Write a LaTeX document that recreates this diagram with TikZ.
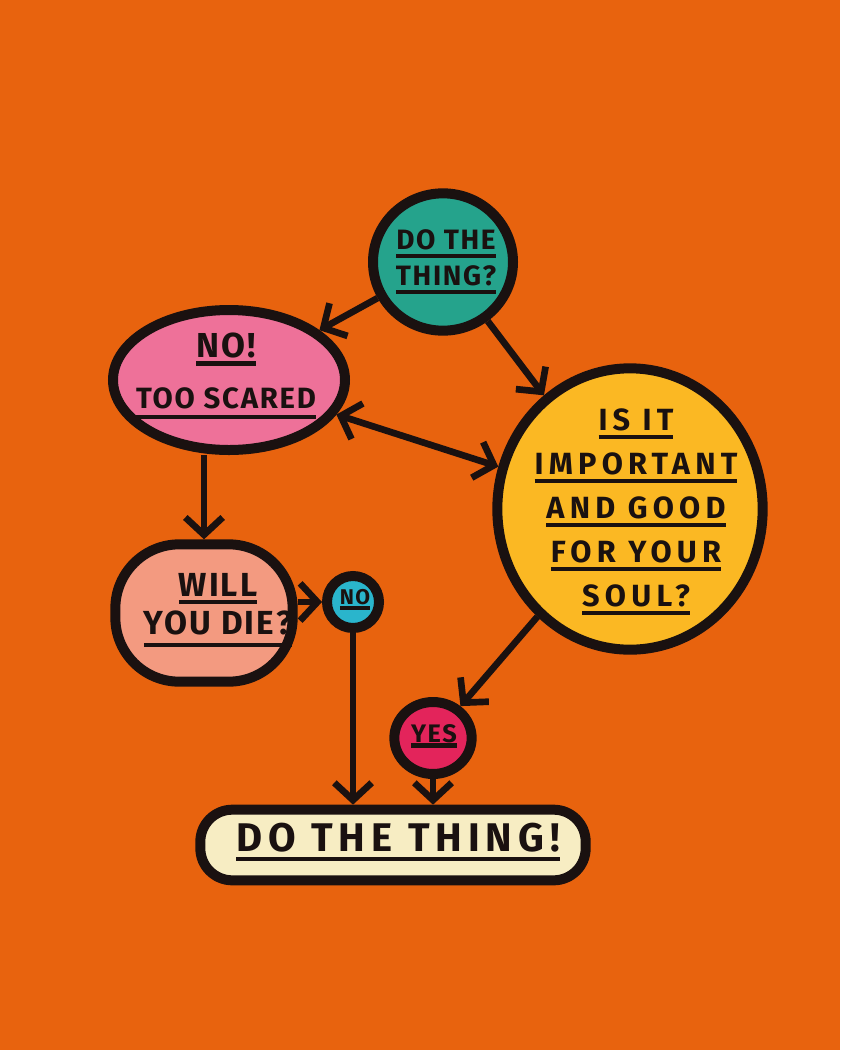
\documentclass[tikz,border=0pt]{standalone}
\usepackage{fontspec}
\newfontfamily\hand[LetterSpace=6]{Fira Sans}
\newfontfamily\handw[LetterSpace=17]{Fira Sans}
\newfontfamily\handf[LetterSpace=15]{Fira Sans}
\usetikzlibrary{shapes.geometric,arrows.meta}
\definecolor{bgor}{HTML}{E8630E}
\definecolor{ink}{HTML}{1A1110}
\definecolor{tealc}{HTML}{25A38C}
\definecolor{pinkc}{HTML}{EE7199}
\definecolor{yelc}{HTML}{FBB823}
\definecolor{salc}{HTML}{F39A80}
\definecolor{cyanc}{HTML}{2AB5CC}
\definecolor{redc}{HTML}{E3245B}
\definecolor{creamc}{HTML}{F7EDC3}
\newcommand\uln[2][6pt]{\setbox0\hbox{#2}\leavevmode\copy0\llap{\rule[-#1]{\wd0}{3.2pt}}}
\begin{document}
\begin{tikzpicture}[x=0.75pt,y=-0.75pt,
  blob/.style={draw=ink,line width=7.5pt,inner sep=0pt},
  arr/.style={draw=ink,line width=5pt,-{Straight Barb[length=13pt,width=28pt]}},
  arrb/.style={draw=ink,line width=5pt,{Straight Barb[length=13pt,width=28pt]}-{Straight Barb[length=13pt,width=28pt]}},
  txt/.style n args={3}{font=#1\bfseries\fontsize{#2}{#3}\selectfont,text=ink,align=center,inner sep=0pt}]
\fill[bgor] (0,0) rectangle (840,1050);
\useasboundingbox (0,0) rectangle (840,1050);
% shapes
\node[blob,ellipse,fill=tealc,minimum width=105pt,minimum height=103pt] (q) at (443,262) {};
\node[blob,ellipse,fill=pinkc,minimum width=174pt,minimum height=105pt] (pink) at (229,380) {};
\node[blob,ellipse,fill=yelc,minimum width=199pt,minimum height=211pt] (yel) at (630,509) {};
\node[blob,rectangle,rounded corners=48pt,fill=salc,minimum width=133pt,minimum height=103pt] (sal) at (204,613) {};
\node[blob,circle,fill=cyanc,minimum size=39pt] (no) at (353,602) {};
\node[blob,ellipse,fill=redc,minimum width=58pt,minimum height=54pt] (yes) at (433,738) {};
\node[blob,rectangle,rounded corners=24pt,fill=creamc,minimum width=289pt,minimum height=53pt] (fin) at (393,845) {};
% texts
\node[txt={\hand}{21}{27}] (qt) at (446,262) {\uln{DO THE}\\\uln{THING?}};
\node[txt={\hand}{22}{38}] (pt) at (226,376) {\uln{\fontsize{26}{26}\selectfont NO!}\\\uln[8pt]{TOO SCARED}};
\node[txt={\handw}{23}{33}] (yt) at (636,512) {\uln{IS IT}\\\uln{IMPORTANT}\\\uln{AND GOOD}\\\uln{FOR YOUR}\\\uln{SOUL?}};
\node[txt={\hand}{25}{29}] (st) at (218,610) {\uln{WILL}\\\uln[9pt]{YOU DIE?}};
\node[txt={\hand}{16}{16}] (nt) at (355,600) {\uln[4pt]{NO}};
\node[txt={\hand}{19}{19}] (yt2) at (434,736) {\uln[4pt]{YES}};
\node[txt={\handf}{30}{30}] (ft) at (398,842) {\uln[7pt]{DO THE THING!}};
% connectors
\draw[arr] (q) -- (pink);
\draw[arr] (q) -- (yel);
\draw[arrb] (pink) -- (yel);
\draw[arr] (pink.south -| sal.north) -- (sal.north);
\draw[arr] (sal.east |- no.west) -- (no.west);
\draw[arr] (no.south) -- (no.south |- fin.north);
\draw[arr] (yel) -- (yes);
\draw[arr] (yes.south) -- (yes.south |- fin.north);
\end{tikzpicture}
\end{document}
